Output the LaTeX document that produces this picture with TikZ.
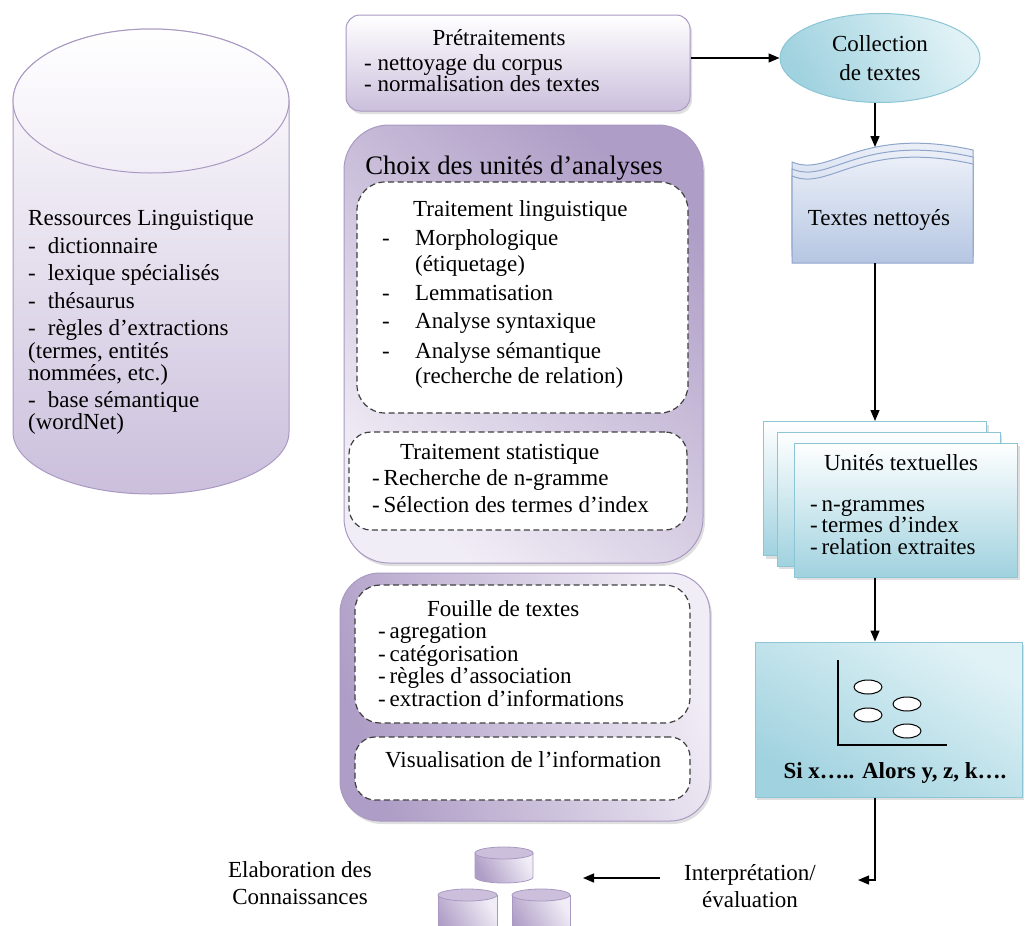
\documentclass[tikz,border=0pt]{standalone}
\usepackage{fontspec}
\setmainfont{Liberation Serif}
\usetikzlibrary{arrows.meta,shapes.geometric,shadows}
\definecolor{purL}{HTML}{F1EDF6}
\definecolor{purM}{HTML}{CBBFDC}
\definecolor{purD}{HTML}{AE9DC6}
\definecolor{purB}{HTML}{A999C2}
\definecolor{cyaL}{HTML}{E0F2F6}
\definecolor{cyaD}{HTML}{A0D2DF}
\definecolor{cyaB}{HTML}{8CC5D5}
\definecolor{bluL}{HTML}{F4F6FB}
\definecolor{bluD}{HTML}{B5C6E2}
\definecolor{bluB}{HTML}{8EA5CB}
\newcommand\fsz{\fontsize{23}{26}\selectfont}
\begin{document}
\begin{tikzpicture}[x=1pt,y=-1pt,
 arr/.style={draw=black,line width=1.3pt,-{Triangle[length=11pt,width=9pt]}},
 dbox/.style={draw=black!75,line width=1.2pt,dash pattern=on 6pt off 3.5pt,fill=white,rounded corners=24pt,inner sep=0pt},
 shd/.style={drop shadow={opacity=0.25,shadow xshift=2pt,shadow yshift=-3pt}},
 txt/.style={inner sep=0pt,align=left,font=\fsz},
 ctr/.style={inner sep=0pt,align=center,font=\fsz},
 ubox/.style={draw=cyaB,line width=1pt,top color=white,bottom color=cyaD,inner sep=0pt,minimum width=223pt,minimum height=134pt},
 dbody/.style={draw=purB,line width=0.8pt,left color=purD,right color=purL,shading angle=120},
 dtop/.style={draw=purB,line width=0.8pt,fill=purM},
]
\useasboundingbox (0,0) rectangle (1026,926);

% ---------- cylinder: Ressources linguistiques
\path[draw=purB,line width=1pt,top color=white,bottom color=purM]
  (13,101) -- (13,432) arc[start angle=180,end angle=360,x radius=138pt,y radius=62pt]
  -- (289,101) arc[start angle=0,end angle=180,x radius=138pt,y radius=72pt] -- cycle;
\path[draw=purB,line width=1pt,top color=white,bottom color=purL] (151,101) ellipse[x radius=138pt,y radius=72pt];
\node[txt,anchor=north west,font=\fontsize{23}{20.5}\selectfont] (res) at (28,210) {%
Ressources Linguistique\\[6.5pt]
-\hspace{12pt}dictionnaire\\[6.5pt]
-\hspace{12pt}lexique spécialisés\\[5.5pt]
-\hspace{12pt}thésaurus\\[6.5pt]
-\hspace{12pt}règles d’extractions\\[1.5pt]
(termes, entités\\
nommées, etc.)\\[5.5pt]
-\hspace{12pt}base sémantique\\
(wordNet)};

% ---------- Pretraitements
\node[draw=purB,line width=1pt,rounded corners=14pt,top color=white,bottom color=purM,shd,
      minimum width=344pt,minimum height=96pt,inner sep=0pt] (pre) at (518,63) {};
\node[ctr,anchor=base] (pret) at (499,45.5) {Prétraitements};
\node[txt,anchor=north west,font=\fontsize{23}{21}\selectfont] (prel) at (364,54) {%
- nettoyage du corpus\\
- normalisation des textes};

% ---------- Choix des unites d'analyses
\node[draw=purB,line width=1pt,rounded corners=45pt,top color=purD,bottom color=purL,shading angle=-40,shd,
      minimum width=359pt,minimum height=438pt,inner sep=0pt] (choix) at (523.5,344) {};
\node[inner sep=0pt,font=\fontsize{26.7}{30}\selectfont,anchor=base] (choixt) at (514,174.5) {Choix des unités d’analyses};
\node[dbox,minimum width=331pt,minimum height=231pt,rounded corners=28pt] (d1) at (522.5,297.5) {};
\node[txt,anchor=north west] (tl) at (382,200) {%
\hspace*{31pt}Traitement linguistique\\[3pt]
\makebox[33pt][l]{-}Morphologique\\
\hspace*{33pt}(étiquetage)\\[3pt]
\makebox[33pt][l]{-}Lemmatisation\\[2pt]
\makebox[33pt][l]{-}Analyse syntaxique\\[4pt]
\makebox[33pt][l]{-}Analyse sémantique\\[-1pt]
\hspace*{33pt}(recherche de relation)};
\node[dbox,minimum width=338pt,minimum height=98pt,rounded corners=22pt] (d2) at (518,481) {};
\node[txt,anchor=north west,font=\fontsize{23}{26.5}\selectfont] (ts) at (372,444) {%
\hspace*{28pt}Traitement statistique\\
-\,Recherche de n-gramme\\
-\,Sélection des termes d’index};

% ---------- Fouille / visualisation
\node[draw=purB,line width=1pt,rounded corners=40pt,top color=purL,bottom color=purD,shading angle=-70,shd,
      minimum width=370pt,minimum height=248pt,inner sep=0pt] (low) at (525,697) {};
\node[dbox,minimum width=335pt,minimum height=138pt,rounded corners=25pt] (d3) at (522.5,654) {};
\node[txt,anchor=north west,font=\fontsize{23}{22.5}\selectfont] (fo) at (378,600) {%
\hspace*{49pt}Fouille de textes\\
-\,agregation\\
-\,catégorisation\\
-\,règles d’association\\
-\,extraction d’informations};
\node[dbox,minimum width=335pt,minimum height=63pt,rounded corners=20pt] (d4) at (522.5,768.5) {};
\node[txt,anchor=base west] (vis) at (385,767.5) {Visualisation de l’information};

% ---------- Collection de textes
\node[ellipse,draw=cyaB,line width=1pt,top color=cyaL,bottom color=cyaD,shading angle=-60,
      minimum width=200pt,minimum height=89pt,inner sep=0pt,align=center,
      font=\fontsize{23}{29}\selectfont] (coll) at (880,58) {Collection\\de textes};

% ---------- Textes nettoyes (multi-document)
\foreach \o/\b in {0/249,7/256,14/263}{
  \path[draw=bluB,line width=1pt,top color=bluL,bottom color=bluD]
    (792,162+\o) .. controls (830,178+\o) and (860,125+\o) .. (973,150+\o)
    -- (973,\b) -- (792,\b) -- cycle;
}
\node[minimum width=181pt,minimum height=118pt,inner sep=0pt] (tn) at (882.5,204) {};
\coordinate (tntop) at (875,147);
\node[ctr,anchor=base] (tnt) at (879,225.5) {Textes nettoyés};

% ---------- Unites textuelles
\node[ubox,shd] (ut3) at (875,488.5) {};
\node[ubox,shd] (ut2) at (888.5,499) {};
\node[ubox,shd] (ut1) at (906,510) {};
\node[ctr,anchor=base] (utt) at (901,470.5) {Unités textuelles};
\node[txt,anchor=north west,font=\fontsize{23}{21.5}\selectfont] (utl) at (810,499) {%
-\,n-grammes\\
-\,termes d’index\\
-\,relation extraites};

% ---------- Si x ... Alors
\node[draw=cyaB,line width=1pt,top color=cyaL,bottom color=cyaD,shading angle=-30,shd,
      minimum width=267pt,minimum height=155pt,inner sep=0pt] (si) at (888.5,719.5) {};
\draw[line width=1.2pt] (838,660) -- (838,745) -- (947,745);
\foreach \cx/\cy in {868/687,868/715,907/704,907/731}{
  \path[draw=black,line width=1pt,fill=white] (\cx,\cy) ellipse[x radius=14pt,y radius=7pt];
}
\node[inner sep=0pt,font=\fontsize{23}{26}\selectfont\bfseries,anchor=base] (sit) at (895,778.5) {Si x….. Alors y, z, k….};

% ---------- Interpretation, bases, elaboration
\node[ctr,font=\fontsize{23}{27}\selectfont] (interp) at (750,886.5) {Interprétation/\\évaluation};
\node[ctr,font=\fontsize{23}{27}\selectfont] (elab) at (300,883.5) {Elaboration des\\Connaissances};
\path[dbody] (475,853) -- (475,877) arc[start angle=180,end angle=360,x radius=29pt,y radius=6pt] -- (533,853) -- cycle;
\path[dtop] (504,853) ellipse[x radius=29pt,y radius=6pt];
\path[dbody] (438,895) -- (438,940) -- (497,940) -- (497,895) -- cycle;
\path[dtop] (467.5,895) ellipse[x radius=29.5pt,y radius=6pt];
\path[dbody] (512,895) -- (512,940) -- (570,940) -- (570,895) -- cycle;
\path[dtop] (541,895) ellipse[x radius=29pt,y radius=6pt];
\node[minimum width=132pt,minimum height=80pt,inner sep=0pt] (db) at (504,886) {};

% ---------- connectors
\coordinate (vx) at (875,0);
\coordinate (ie) at (858,880);
\coordinate (is) at (660,878);
\coordinate (dbe) at (583,878);
\draw[arr] (pre.east |- coll.west) -- (coll.west);
\draw[arr] (coll.south -| vx) -- (tntop);
\draw[arr] (tn.south -| vx) -- (ut3.north);
\draw[arr] (ut1.south -| vx) -- (si.north -| vx);
\draw[arr] (si.south -| vx) |- (ie);
\draw[arr] (is) -- (dbe);
\end{tikzpicture}
\end{document}
